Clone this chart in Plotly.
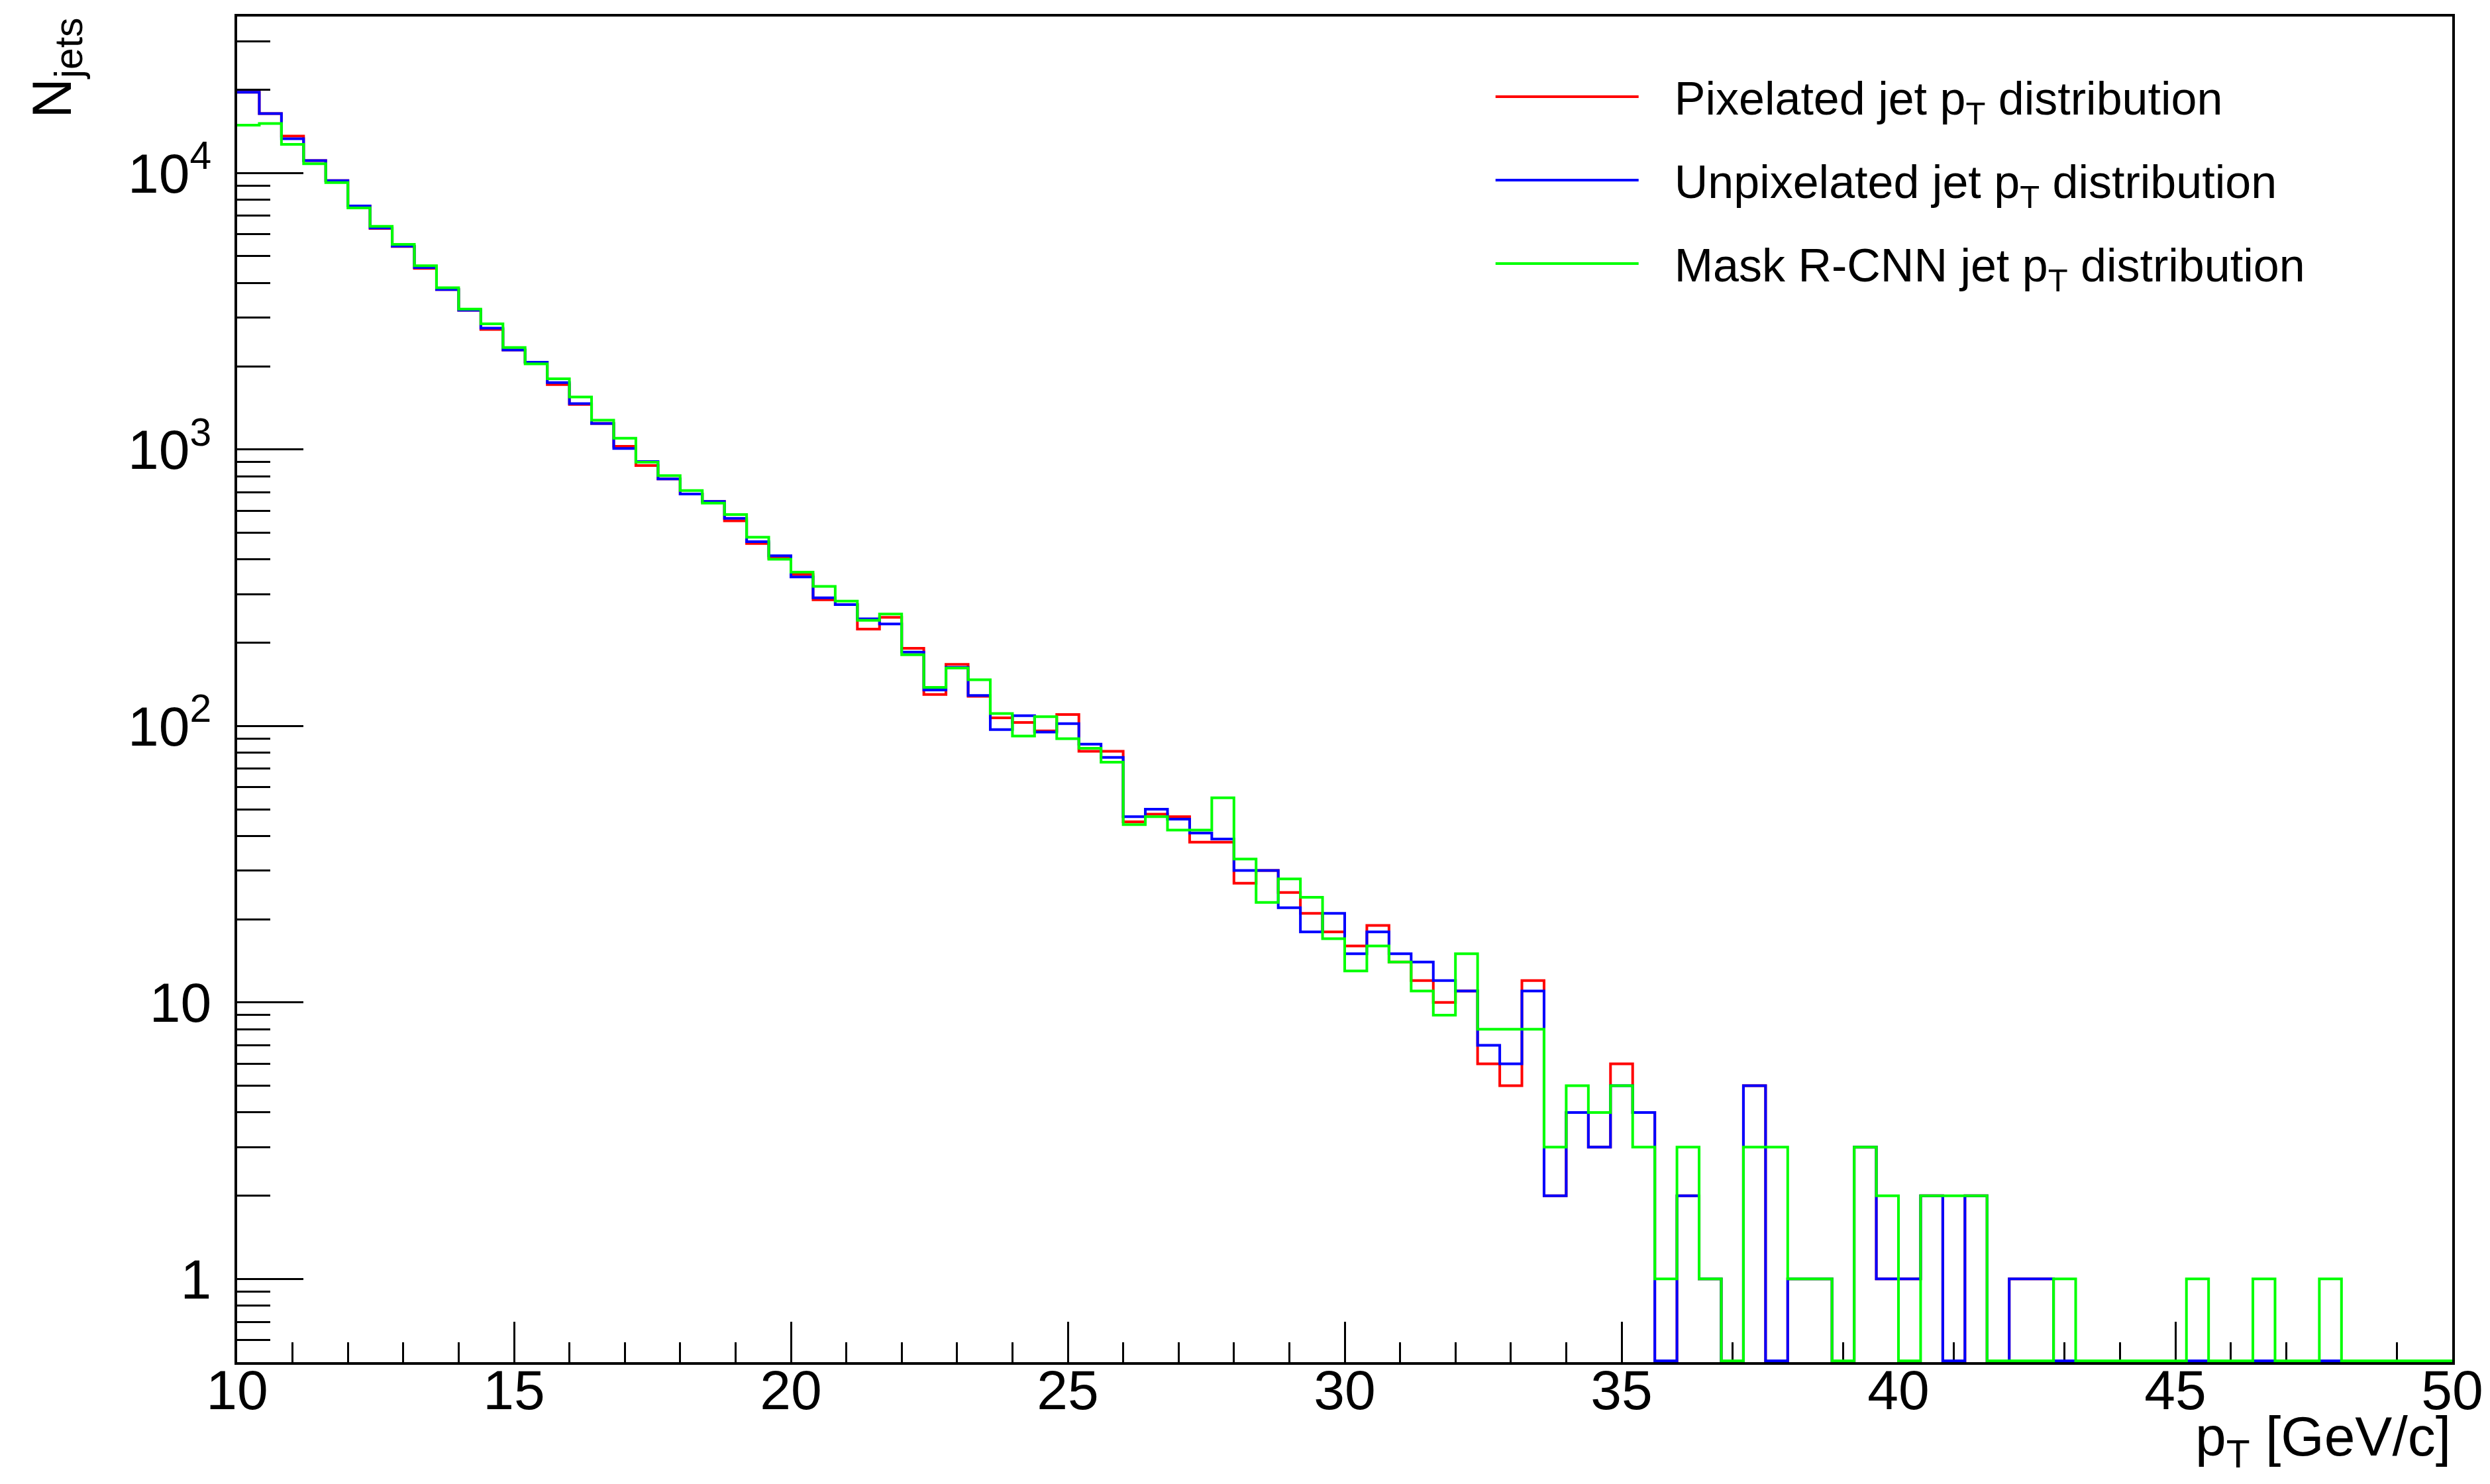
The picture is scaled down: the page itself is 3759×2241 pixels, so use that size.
import plotly.graph_objects as go

# ---- binning (ROOT-style TH1 with 100 bins from 10 to 50 GeV/c) ----
x_min, x_max, n_bins = 10.0, 50.0, 100
bin_edges = [x_min + (x_max - x_min) * i / n_bins for i in range(n_bins + 1)]

# ---- bin contents ----
pixelated = [
    19600, 16400, 13600, 11100, 9390, 7600, 6300, 5420, 4520, 3790,
    3190, 2720, 2290, 2070, 1718, 1455, 1242, 1027, 875, 783,
    690, 649, 552, 457, 405, 353, 286, 275, 224, 247,
    191, 130, 167, 128, 107, 103, 96, 110, 81, 81,
    45, 48, 47, 38, 38, 27, 30, 25, 21, 18,
    16, 19, 14, 12, 10, 11, 6, 5, 12, 2,
    4, 3, 6, 4, 0, 2, 1, 0, 5, 0,
    1, 1, 0, 3, 1, 1, 2, 0, 2, 0,
    1, 1, 0, 0, 0, 0, 0, 0, 0, 0,
    0, 0, 0, 0, 0, 0, 0, 0, 0, 0,
]
unpixelated = [
    19600, 16400, 13300, 11100, 9390, 7600, 6330, 5440, 4550, 3790,
    3190, 2750, 2290, 2070, 1745, 1465, 1242, 1009, 905, 783,
    690, 649, 564, 464, 413, 346, 291, 275, 244, 234,
    185, 135, 163, 129, 97, 109, 95, 102, 86, 77,
    47, 50, 46, 41, 39, 30, 30, 22, 18, 21,
    15, 18, 15, 14, 12, 11, 7, 6, 11, 2,
    4, 3, 5, 4, 0, 2, 1, 0, 5, 0,
    1, 1, 0, 3, 1, 1, 2, 0, 2, 0,
    1, 1, 0, 0, 0, 0, 0, 0, 0, 0,
    0, 0, 0, 0, 0, 0, 0, 0, 0, 0,
]
mask_rcnn = [
    14900, 15100, 12700, 10800, 9230, 7480, 6420, 5520, 4620, 3850,
    3220, 2850, 2340, 2040, 1803, 1548, 1276, 1098, 900, 805,
    711, 640, 582, 482, 401, 360, 320, 283, 241, 254,
    181, 138, 162, 147, 111, 92, 108, 90, 83, 74,
    44, 47, 42, 42, 55, 33, 23, 28, 24, 17,
    13, 16, 14, 11, 9, 15, 8, 8, 8, 3,
    5, 4, 5, 3, 1, 3, 1, 0, 3, 3,
    1, 1, 0, 3, 2, 0, 2, 2, 2, 0,
    0, 0, 1, 0, 0, 0, 0, 0, 1, 0,
    0, 1, 0, 0, 1, 0, 0, 0, 0, 0,
]

GAP = "\u2002\u2009"   # spacing between legend line and legend text
series_names = [
    GAP + "Pixelated jet p<sub>T</sub> distribution",
    GAP + "Unpixelated jet p<sub>T</sub> distribution",
    GAP + "Mask R-CNN jet p<sub>T</sub> distribution",
]
series_colors = ["#ff0000", "#0000ff", "#00ff00"]

y_lo_log, y_hi_log = -0.301, 4.566
floor_val = 10 ** (y_lo_log + 0.005)   # empty bins are drawn on the frame bottom

y_major_vals = [1, 10, 100, 1000, 10000]
y_major_text = ["1", "10", "10<sup>2</sup>", "10<sup>3</sup>", "10<sup>4</sup>"]
y_minor_vals = ([m / 10 for m in range(6, 10)] +
                [m * 10 ** d for d in range(0, 4) for m in range(2, 10)] +
                [20000, 30000])

FONT = "Liberation Sans, Arial, Helvetica, sans-serif"

fig = go.Figure()
for i, (vals, name, col) in enumerate(zip([pixelated, unpixelated, mask_rcnn],
                                          series_names, series_colors)):
    yv = [max(v, floor_val) for v in vals]
    fig.add_trace(go.Scatter(
        x=bin_edges,
        y=yv + [yv[-1]],
        mode="lines",
        line=dict(color=col, width=4, shape="hv"),
        name=name,
        legendgroup=f"g{i}",
        hoverinfo="skip",
    ))

fig.update_layout(
    width=3759, height=2241,
    margin=dict(l=350, r=65, t=17, b=192),
    paper_bgcolor="white", plot_bgcolor="white",
    font=dict(family=FONT, color="black", size=84),
    showlegend=True,
    legend=dict(
        x=0.5666, y=0.966, xanchor="left", yanchor="top",
        font=dict(family=FONT, size=70, color="black"),
        bgcolor="rgba(0,0,0,0)", borderwidth=0,
        itemwidth=216, tracegroupgap=32,
    ),
    xaxis=dict(
        range=[x_min, x_max], showgrid=False, zeroline=False,
        showline=True, linecolor="black", linewidth=4, mirror=True,
        ticks="inside", ticklen=61, tickwidth=3, tickcolor="black",
        tick0=10, dtick=5,
        minor=dict(ticks="inside", ticklen=30, tickwidth=3, tickcolor="black", dtick=1),
        tickfont=dict(family=FONT, size=84, color="black"),
        ticklabelstandoff=-34,
        layer="below traces",
    ),
    yaxis=dict(
        type="log", range=[y_lo_log, y_hi_log], showgrid=False, zeroline=False,
        showline=True, linecolor="black", linewidth=4, mirror=True,
        ticks="inside", ticklen=100, tickwidth=3, tickcolor="black",
        tickmode="array", tickvals=y_major_vals, ticktext=y_major_text,
        minor=dict(ticks="inside", ticklen=50, tickwidth=3, tickcolor="black",
                   tickmode="array", tickvals=y_minor_vals),
        tickfont=dict(family=FONT, size=84, color="black"),
        ticklabelstandoff=18,
        layer="below traces",
    ),
    annotations=[
        dict(text="N<sub>jets</sub>", textangle=-90, showarrow=False,
             xref="paper", yref="paper", x=-0.082, y=1.0,
             xanchor="center", yanchor="top",
             font=dict(family=FONT, size=84, color="black")),
        dict(text="p<sub>T</sub> [GeV/c]", showarrow=False,
             xref="paper", yref="paper", x=1.0, y=-0.058,
             xanchor="right", yanchor="middle",
             font=dict(family=FONT, size=84, color="black")),
    ],
)

fig.write_html("out.html")
